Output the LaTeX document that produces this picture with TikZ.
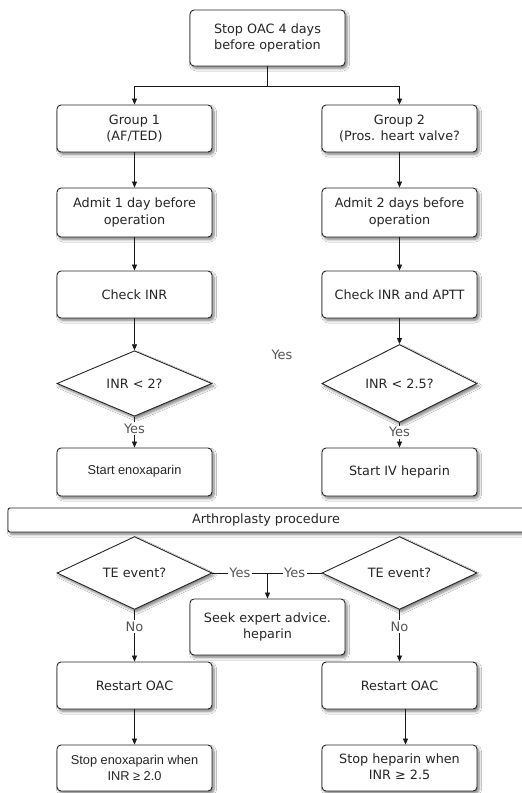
\documentclass[tikz,border=0pt]{standalone}
\usepackage{fontspec}
\setmainfont{DejaVu Sans}
\newfontfamily\helv{Liberation Sans}
\usetikzlibrary{shapes.geometric,arrows.meta,shadows.blur}
\definecolor{txt}{HTML}{262626}
\definecolor{lbltxt}{HTML}{555555}
\begin{document}
\begin{tikzpicture}[x=1pt,y=-1pt,
  shad/.style={blur shadow={shadow xshift=2pt, shadow yshift=-2.5pt, shadow blur steps=6, shadow opacity=50, shadow blur radius=2.5pt}},
  box/.style={shad, draw=black!85, line width=0.9pt, rounded corners=4pt, fill=white,
    minimum width=155pt, minimum height=47pt, align=center, text=txt,
    font=\fontsize{12.8}{16.5}\selectfont, inner sep=0pt},
  dec/.style={shad, shape=diamond, draw=black!85, line width=0.9pt, fill=white,
    minimum width=155pt, minimum height=59pt, inner sep=0pt, text=txt,
    font=\fontsize{12.8}{16.5}\selectfont},
  arr/.style={-{Triangle[length=6pt,width=5pt]}, line width=0.7pt, draw=black!90},
  ln/.style={line width=0.7pt, draw=black!90},
  lbl/.style={fill=white, inner sep=1.5pt, text=lbltxt, font=\fontsize{13}{15}\selectfont},
]
\clip (0,0) rectangle (522,793);
\fill[white] (0,0) rectangle (522,793);

\node[box, minimum height=56pt] (top) at (267.5,38) {Stop OAC 4 days\\before operation};

\node[box] (g1) at (134.5,128.5) {Group 1\\(AF/TED)};
\node[box] (g2) at (399.5,128.5) {Group 2\\(Pros. heart valve?};

\node[box, minimum height=49pt] (a1) at (134.5,212.5) {Admit 1 day before\\operation};
\node[box, minimum height=49pt] (a2) at (399.5,212.5) {Admit 2 days before\\operation};

\node[box] (c1) at (134.5,294.5) {Check INR};
\node[box] (c2) at (399.5,294.5) {Check INR and APTT};

\node[dec] (d1) at (134.5,383.5) {INR < 2?};
\node[dec] (d2) at (399.5,383.5) {INR < 2.5?};

\node[text=lbltxt, font=\fontsize{13}{15}\selectfont] (yfloat) at (282,355) {Yes};

\node[box, minimum height=48pt] (s1) at (134.5,472) {\raisebox{5pt}{\helv Start enoxaparin}};
\node[box, minimum height=48pt] (s2) at (399.5,472) {\raisebox{3pt}{Start IV heparin}};

\node[box, minimum width=522pt, minimum height=24pt, rounded corners=2pt] (bar) at (269,520) {\hspace*{-6pt}Arthroplasty procedure};

\node[dec, minimum height=60pt] (t1) at (134.5,573) {TE event?};
\node[dec, minimum height=60pt] (t2) at (399.5,573) {TE event?};

\node[box, minimum height=56pt] (seek) at (267.5,627) {Seek expert advice.\\heparin};

\node[box] (r1) at (134.5,685.5) {Restart OAC};
\node[box] (r2) at (399.5,685.5) {Restart OAC};

\node[box, minimum height=46pt] (f1) at (134.5,768) {{\helv Stop enoxaparin when}\\{\helv INR ≥ 2.0}};
\node[box, minimum height=46pt] (f2) at (399.5,768) {\raisebox{-5pt}{\begin{tabular}{@{}c@{}}Stop heparin when\\INR ≥ 2.5\end{tabular}}};

% connectors
\draw[ln] (top.south) -- ++(0,20) coordinate (split);
\draw[arr] (split) -| (g1.north);
\draw[arr] (split) -| (g2.north);
\draw[arr] (g1) -- (a1);
\draw[arr] (g2) -- (a2);
\draw[arr] (a1) -- (c1);
\draw[arr] (a2) -- (c2);
\draw[arr] (c1) -- (d1);
\draw[arr] (c2) -- (d2);
\draw[arr] (d1.south) -- node[lbl, pos=0.38] {Yes} (s1.north);
\draw[arr] (d2.south) -- node[lbl, pos=0.38] {Yes} (s2.north);

\draw[arr] (t1.east) -- node[lbl] {Yes} (t1.east -| seek.north) -- (seek.north);
\draw[ln] (t2.west) -- node[lbl] {Yes} (t2.west -| seek.north);
\draw[arr] (t1.south) -- node[lbl, pos=0.32] {No} (r1.north);
\draw[arr] (t2.south) -- node[lbl, pos=0.32] {No} (r2.north);
\draw[arr] (r1) -- (f1);
\draw[arr] ([xshift=6pt]r2.south) -- ([xshift=6pt]f2.north);
\end{tikzpicture}
\end{document}
